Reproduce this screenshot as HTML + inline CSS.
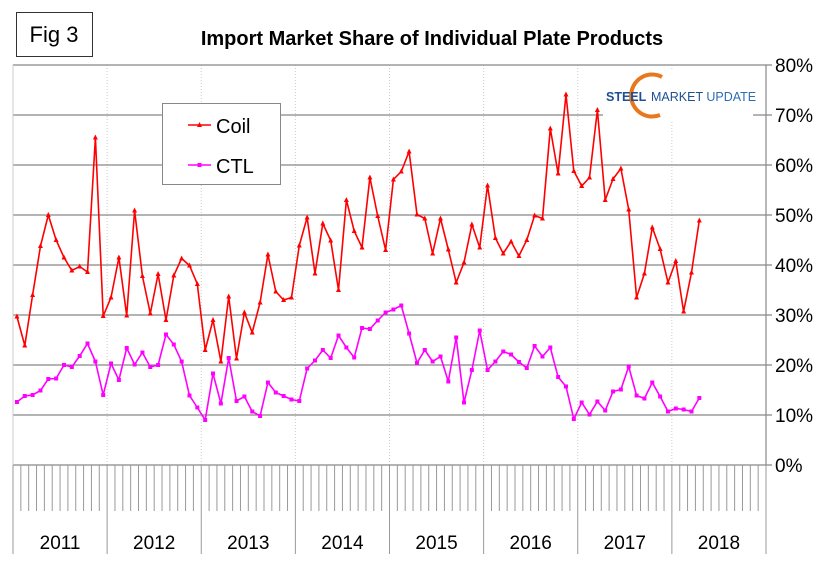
<!DOCTYPE html>
<html><head><meta charset="utf-8"><style>
html,body{margin:0;padding:0;background:#fff;}
svg{display:block;font-family:"Liberation Sans",Arial,sans-serif;}
</style></head><body>
<svg id="chart" width="834" height="571" viewBox="0 0 834 571" xmlns="http://www.w3.org/2000/svg">
<rect x="16.5" y="12.5" width="76" height="44" fill="#fff" stroke="#333" stroke-width="1"/>
<text x="54" y="42" font-size="22" text-anchor="middle" fill="#000">Fig 3</text>
<text x="432" y="45" font-size="20" font-weight="bold" text-anchor="middle" fill="#000">Import Market Share of Individual Plate Products</text>
<g id="grid"></g>
<g id="xaxis"></g>
<g id="yaxis"></g>
<g id="series"></g>
<g>
<rect x="603" y="70" width="150" height="52" fill="#fff"/>
<path d="M662 77 A21 21 0 1 0 660 115" fill="none" stroke="#e8781e" stroke-width="4"/>
<text x="606" y="101" font-size="12.5" font-weight="bold" fill="#1d4f91">STEEL</text>
<text x="651" y="101" font-size="12.5" fill="#1d4f91">MARKET <tspan fill="#2d6db5">UPDATE</tspan></text>
</g>
<g>
<rect x="162.5" y="103.5" width="118" height="81" fill="#fff" stroke="#888"/>
<line x1="188" y1="125" x2="211" y2="125" stroke="#f00" stroke-width="1.5"/>
<path d="M199.5 122 L202 127 L197 127 Z" fill="#f00"/>
<text x="216" y="133" font-size="20">Coil</text>
<line x1="188" y1="165" x2="211" y2="165" stroke="#f0f" stroke-width="1.5"/>
<rect x="197.5" y="163" width="4" height="4" fill="#f0f"/>
<text x="216" y="173" font-size="20">CTL</text>
</g>
</svg>
<script>
const years = ["2011","2012","2013","2014","2015","2016","2017","2018"];
const yTicks = [0,10,20,30,40,50,60,70,80];
const coil = [29.7,23.9,34,43.8,50,45,41.5,38.9,39.7,38.6,65.5,29.8,33.5,41.5,29.9,50.9,37.8,30.3,38.2,29,37.9,41.3,39.9,36.2,23,29,20.7,33.7,21.3,30.5,26.5,32.5,42.1,34.7,33,33.5,43.9,49.5,38.3,48.3,44.9,35,53,46.8,43.5,57.5,49.8,43,57.1,58.7,62.7,50.1,49.3,42.3,49.3,43.1,36.5,40.5,48.1,43.5,55.9,45.4,42.3,44.7,41.8,45,49.9,49.3,67.3,58.3,74.1,58.8,55.8,57.5,71,53,57.2,59.3,51.1,33.5,38.3,47.5,43.2,36.5,40.8,30.7,38.5,48.9];
const ctl = [12.6,13.8,14,14.9,17.2,17.3,20,19.6,21.8,24.3,20.7,14,20.3,17,23.4,20.1,22.5,19.6,20,26.1,24.1,20.7,13.9,11.5,9,18.3,12.3,21.4,12.8,13.7,10.7,9.8,16.5,14.5,13.8,13.1,12.8,19.3,20.9,23,21.4,25.9,23.5,21.5,27.4,27.2,28.9,30.5,31.1,31.9,26.3,20.4,23,20.7,21.7,16.7,25.5,12.5,19,26.9,19,20.7,22.7,22.1,20.6,19.4,23.8,21.7,23.5,17.6,15.7,9.2,12.5,10.1,12.7,10.9,14.7,15.1,19.7,13.9,13.3,16.5,13.7,10.7,11.3,11.1,10.7,13.4];

const NS="http://www.w3.org/2000/svg";
const X0=13, X1=766, Y0=465, Ytop=65, months=years.length*12;
const mw=(X1-X0)/months;
function xScale(i){return X0+(i+0.5)*mw;}
function yScale(v){return Y0-(v/80)*(Y0-Ytop);}
function mk(tag,attrs,parent){const e=document.createElementNS(NS,tag);for(const k in attrs)e.setAttribute(k,attrs[k]);parent.appendChild(e);return e;}
const grid=document.getElementById('grid'),xa=document.getElementById('xaxis'),ya=document.getElementById('yaxis'),ser=document.getElementById('series');

mk('rect',{x:X0,y:Ytop,width:X1-X0,height:Y0-Ytop,fill:'#fff',stroke:'#ddd'},grid);
for(let y=1;y<years.length;y++){
  const x=X0+y*12*mw;
  const l=mk('line',{x1:x,y1:Ytop,x2:x,y2:Y0,stroke:'#ccc','stroke-dasharray':'1,2'},grid);
  
  
}
yTicks.forEach(t=>{
  const y=yScale(t);
  const l=mk('line',{x1:X0,y1:y,x2:X1+6,y2:y,stroke:'#888','stroke-width':1.2},grid);
  
  
  const tx=mk('text',{x:775,y:y+7,'font-size':19,fill:'#000'},ya);
  tx.textContent=t+'%';
  
  
});
mk('line',{x1:X1,y1:Ytop,x2:X1,y2:Y0,stroke:'#888','stroke-width':1.2},ya);
mk('line',{x1:X0,y1:Ytop,x2:X0,y2:Y0,stroke:'#ccc'},ya);
for(let m=0;m<=months;m++){
  const x=X0+m*mw;
  const major=m%12===0;
  const l=mk('line',{x1:x,y1:Y0,x2:x,y2:major?554:511,stroke:'#999','stroke-width':1},xa);
  
  
}
years.forEach((yr,k)=>{
  const t=mk('text',{x:X0+(k+0.5)*12*mw,y:549,'font-size':19,'text-anchor':'middle',fill:'#000'},xa);
  t.textContent=yr;
  
  
});
function drawSeries(vals,color,name,marker){
  const pts=vals.map((v,i)=>xScale(i).toFixed(1)+','+yScale(v).toFixed(1)).join(' ');
  const pl=mk('polyline',{points:pts,fill:'none',stroke:color,'stroke-width':1.6},ser);
  
  
  vals.forEach((v,i)=>{
    const x=xScale(i),y=yScale(v);
    let m;
    if(marker==='tri') m=mk('path',{d:`M${x} ${y-3} L${x+2.5} ${y+2} L${x-2.5} ${y+2} Z`,fill:color},ser);
    else m=mk('rect',{x:x-2,y:y-2,width:4,height:4,fill:color},ser);
    
    
  });
}
drawSeries(coil,'#ff0000','coil','tri');
drawSeries(ctl,'#ff00ff','ctl','sq');
</script>
</body></html>
